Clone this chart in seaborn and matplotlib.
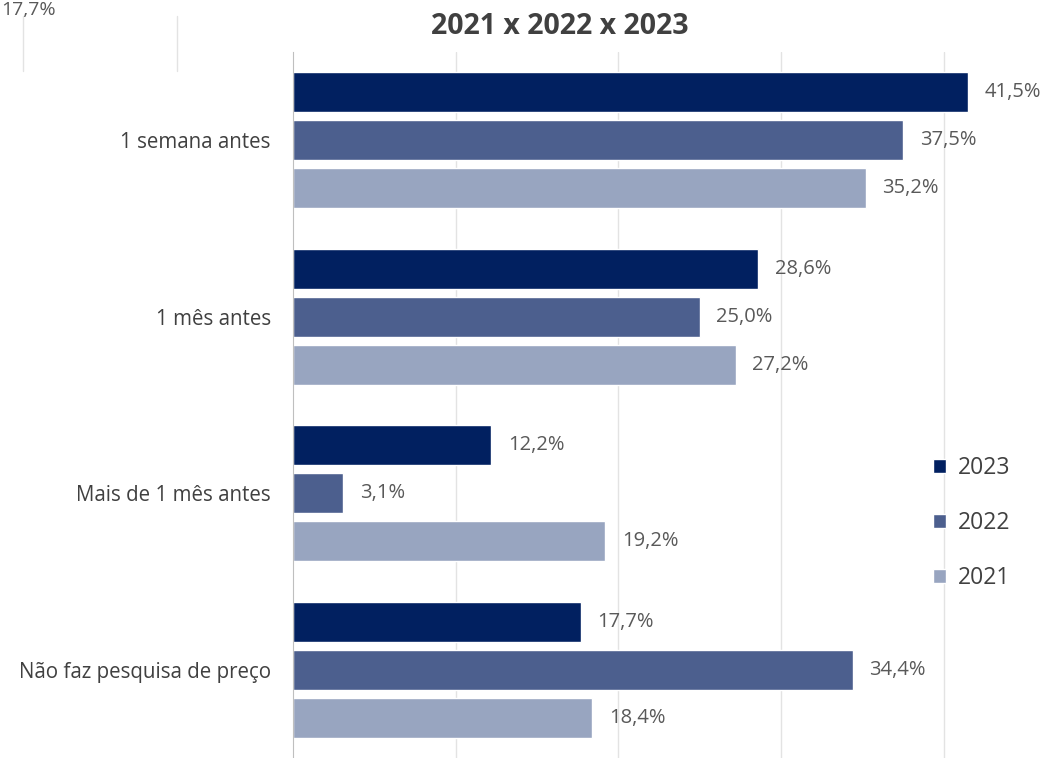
import numpy as np
import pandas as pd
import matplotlib
matplotlib.use("Agg")
import matplotlib.pyplot as plt
from matplotlib.lines import Line2D
import seaborn as sns

# Dados do gráfico
categorias = ["1 semana antes", "1 mês antes", "Mais de 1 mês antes", "Não faz pesquisa de preço"]
anos = ["2023", "2022", "2021"]
v2023 = [41.5, 28.6, 12.2, 17.7]
v2022 = [37.5, 25.0, 3.1, 34.4]
v2021 = [35.2, 27.2, 19.2, 18.4]
cores = ["#012060", "#4C5F8E", "#98A5C0"]

df = pd.DataFrame({
    "categoria": categorias * 3,
    "ano": ["2023"] * 4 + ["2022"] * 4 + ["2021"] * 4,
    "valor": v2023 + v2022 + v2021,
})

sns.set_style("white")
plt.rcParams["font.family"] = ["Open Sans", "DejaVu Sans"]

fig = plt.figure(figsize=(10.47, 7.58), dpi=100)
ax = fig.add_axes([293 / 1047, 0, (1030 - 293) / 1047, (758 - 52) / 758])

sns.barplot(data=df, y="categoria", x="valor", hue="ano", hue_order=anos,
            palette=cores, order=categorias, orient="h", width=0.813,
            saturation=1, ax=ax, legend=True)

# barras mais finas com espaço entre elas
for p in ax.patches:
    h = p.get_height()
    if h == 0:
        continue
    novo = 40 / 177
    p.set_y(p.get_y() + (h - novo) / 2)
    p.set_height(novo)

for cont in ax.containers:
    ax.bar_label(cont, labels=[f"{v:.1f}%".replace(".", ",") for v in cont.datavalues],
                 padding=12, fontsize=14.5, color="#595959")

ax.set_xlim(0, 45.3)
ax.set_ylim(3.5, -0.5)
ax.set_xticks([10, 20, 30, 40])
ax.set_xticklabels([])
ax.tick_params(axis="x", length=0)
ax.grid(axis="x", color="#E3E3E3", linewidth=1)
ax.set_axisbelow(True)

ax.set_yticks(range(4))
ax.set_yticklabels(categorias, fontsize=14.8, color="#404040")
ax.tick_params(axis="y", which="major", length=0, pad=16)
ax.set_yticks([-0.5, 0.5, 1.5, 2.5, 3.5], minor=True)
ax.tick_params(axis="y", which="minor", length=6, color="#BFBFBF", width=1)
ax.set_xlabel("")
ax.set_ylabel("")

for s in ["top", "right", "bottom"]:
    ax.spines[s].set_visible(False)
ax.spines["left"].set_color("#BFBFBF")

leg = ax.legend(loc="center left", bbox_to_anchor=((912 - 293) / 737, 1 - (523 - 52) / 706),
                frameon=False, fontsize=16.5, handlelength=0.6, handleheight=0.6,
                labelspacing=1.35, handletextpad=0.5)
for t in leg.get_texts():
    t.set_color("#404040")

fig.text(560 / 1047, 1 - 26 / 758, "2021 x 2022 x 2023", ha="center", va="center",
         fontsize=20.5, fontweight="bold", color="#404040")
fig.text(1 / 1047, 1 - 10 / 758, "17,7%", ha="left", va="center",
         fontsize=14, color="#595959")
for gx in [23, 177]:
    fig.add_artist(Line2D([gx / 1047, gx / 1047], [1 - 16 / 758, 1 - 71 / 758],
                          color="#E3E3E3", linewidth=1))

fig.savefig("out.png", dpi=100)
